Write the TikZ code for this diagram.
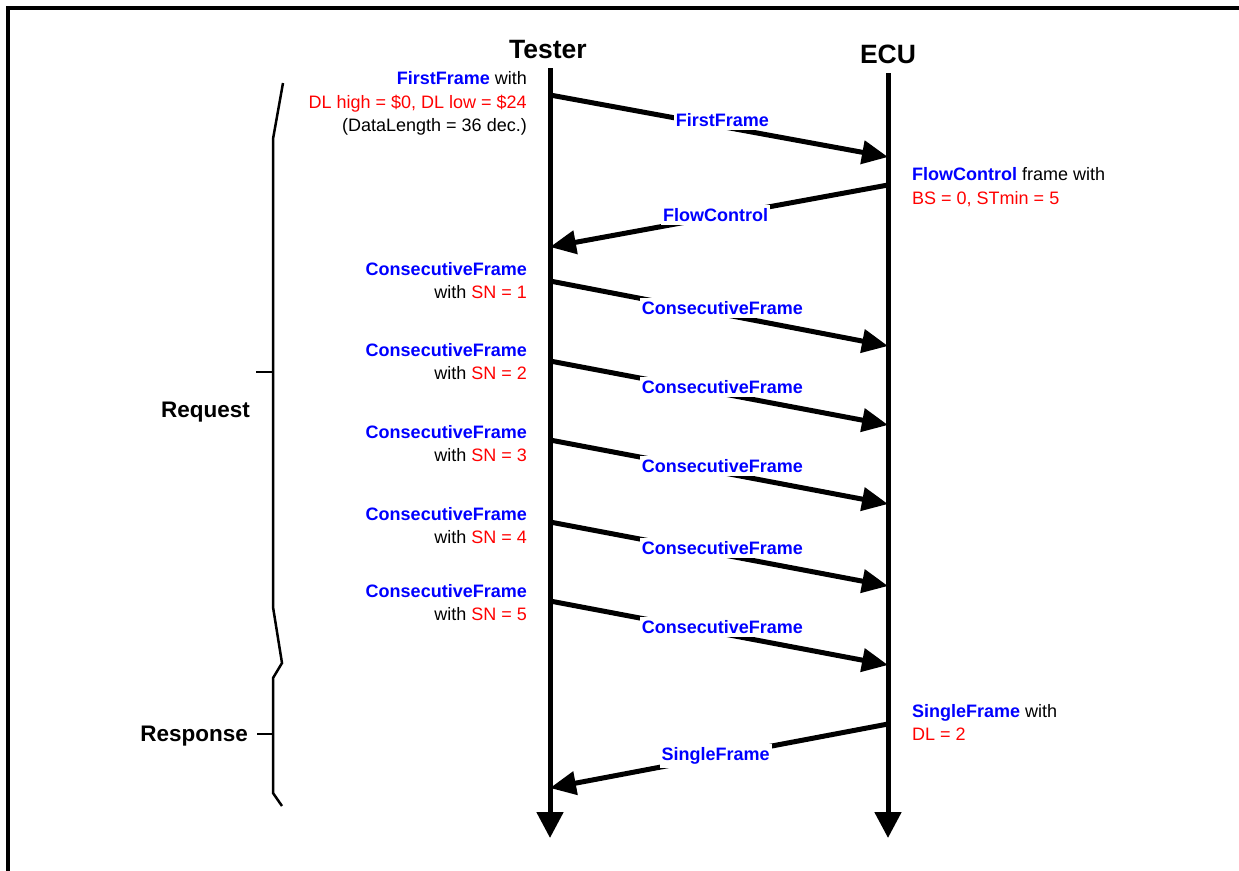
\documentclass[tikz,border=0pt]{standalone}
\usepackage{fontspec}
\setmainfont{Liberation Sans}
\usetikzlibrary{arrows.meta}
\definecolor{sigblue}{RGB}{0,0,255}
\definecolor{sigred}{RGB}{255,0,0}
\newcommand{\fr}[1]{{\bfseries\color{sigblue}#1}}
\newcommand{\rd}[1]{{\color{sigred}#1}}
\begin{document}
\begin{tikzpicture}[x=1pt,y=-1pt,
  every node/.style={inner sep=0pt, font=\fontsize{18}{23}\selectfont},
  title/.style={font=\fontsize{26.5}{30}\selectfont\bfseries, anchor=base},
  side/.style={font=\fontsize{22.5}{26}\selectfont\bfseries, anchor=base east},
  lifeline/.style={line width=5pt, -{Triangle[length=26pt,width=26pt]}},
  msg/.style={line width=5pt, -{Triangle[length=26pt,width=23pt]}},
  lbl/.style={anchor=base, fill=white, inner xsep=2pt, inner ysep=3.5pt, text=sigblue,
              font=\fontsize{18}{23}\selectfont\bfseries, pos=0.51},
  noteL/.style={anchor=base east},
  noteR/.style={anchor=base west},
  brace/.style={line width=2.5pt, line join=miter},
]
\useasboundingbox (0,0) rectangle (1239,870);

% outer frame (top and left edges)
\draw[line width=4pt, line join=miter] (8,880) -- (8,8) -- (1250,8);

% participants and lifelines
\node[title] (tester) at (548,58) {Tester};
\node[title] (ecu) at (888,63) {ECU};
\coordinate (ttop) at (550,68);
\coordinate (tbot) at (550,838);
\coordinate (etop) at (888,73);
\coordinate (ebot) at (888,838);
\draw[lifeline] (ttop) -- (tbot);
\draw[lifeline] (etop) -- (ebot);

% message end points
\coordinate (t1) at (550,95);  \coordinate (e1) at (888,157);
\coordinate (e2) at (888,185); \coordinate (t2) at (550,247);
\coordinate (t3) at (550,281); \coordinate (e3) at (888,346);
\coordinate (t4) at (550,361); \coordinate (e4) at (888,425);
\coordinate (t5) at (550,440); \coordinate (e5) at (888,504);
\coordinate (t6) at (550,522); \coordinate (e6) at (888,586);
\coordinate (t7) at (550,601); \coordinate (e7) at (888,665);
\coordinate (e8) at (888,724); \coordinate (t8) at (550,788);

% messages
\draw[msg] (t1) -- (e1) node[lbl] (m1) {FirstFrame};
\draw[msg] (e2) -- (t2) node[lbl, yshift=-5pt] (m2) {FlowControl};
\draw[msg] (t3) -- (e3) node[lbl] (m3) {ConsecutiveFrame};
\draw[msg] (t4) -- (e4) node[lbl] (m4) {ConsecutiveFrame};
\draw[msg] (t5) -- (e5) node[lbl] (m5) {ConsecutiveFrame};
\draw[msg] (t6) -- (e6) node[lbl] (m6) {ConsecutiveFrame};
\draw[msg] (t7) -- (e7) node[lbl] (m7) {ConsecutiveFrame};
\draw[msg] (e8) -- (t8) node[lbl, yshift=-4pt] (m8) {SingleFrame};

% notes on the tester side
\node[noteL] (n1a) at (527,84) {\fr{FirstFrame} with};
\node[noteL] (n1b) at (527,108) {\rd{DL high = \$0, DL low = \$24}};
\node[noteL] (n1c) at (527,131) {(DataLength = 36 dec.)};
\node[noteL] (n3a) at (527,275) {\fr{ConsecutiveFrame}};
\node[noteL] (n3b) at (527,298) {with \rd{SN = 1}};
\node[noteL] (n4a) at (527,356) {\fr{ConsecutiveFrame}};
\node[noteL] (n4b) at (527,379) {with \rd{SN = 2}};
\node[noteL] (n5a) at (527,438) {\fr{ConsecutiveFrame}};
\node[noteL] (n5b) at (527,461) {with \rd{SN = 3}};
\node[noteL] (n6a) at (527,520) {\fr{ConsecutiveFrame}};
\node[noteL] (n6b) at (527,543) {with \rd{SN = 4}};
\node[noteL] (n7a) at (527,597) {\fr{ConsecutiveFrame}};
\node[noteL] (n7b) at (527,620) {with \rd{SN = 5}};

% notes on the ECU side
\node[noteR] (n2a) at (912,180) {\fr{FlowControl} frame with};
\node[noteR] (n2b) at (912,204) {\rd{BS = 0, STmin = 5}};
\node[noteR] (n8a) at (912,717) {\fr{SingleFrame} with};
\node[noteR] (n8b) at (912,740) {\rd{DL = 2}};

% request / response braces
\coordinate (b0) at (283,83);
\coordinate (b1) at (273,139);
\coordinate (b2) at (273,607);
\coordinate (b3) at (282,663);
\coordinate (b4) at (273,678);
\coordinate (b5) at (273,793);
\coordinate (b6) at (282,806);
\draw[brace] (b0) -- (b1) -- (b2) -- (b3) -- (b4) -- (b5) -- (b6);
\coordinate (rq) at (273,372);
\coordinate (rqt) at (256,372);
\coordinate (rs) at (273,734);
\coordinate (rst) at (257,734);
\draw[brace] (rq) -- (rqt);
\draw[brace] (rs) -- (rst);
\node[side] (req) at (250,417) {Request};
\node[side] (resp) at (248,741) {Response};
\end{tikzpicture}
\end{document}
